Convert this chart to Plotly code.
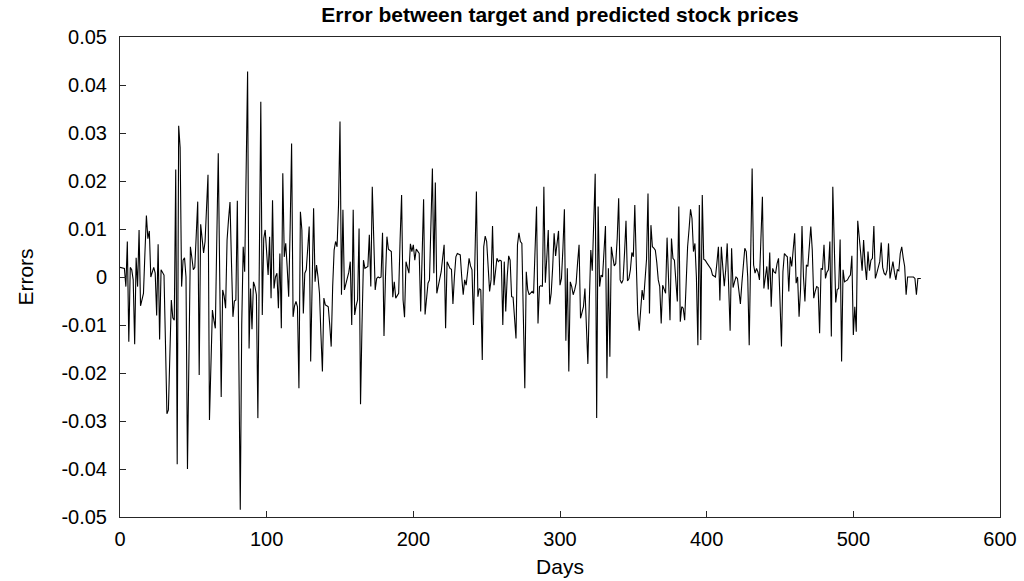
import plotly.graph_objects as go

errors = [
    0.0020, 0.0019, 0.0018, 0.0018, -0.0020, 0.0074, -0.0135, 0.0020, 0.0015, -0.0006,
    -0.0140, 0.0040, -0.0020, 0.0098, -0.0060, -0.0045, -0.0034, 0.0050, 0.0128, 0.0080,
    0.0096, 0.0000, 0.0010, 0.0020, 0.0008, -0.0080, 0.0068, -0.0130, 0.0015, 0.0010,
    0.0004, -0.0138, -0.0285, -0.0277, -0.0150, -0.0048, -0.0085, -0.0090, 0.0224, -0.0390,
    0.0315, 0.0270, -0.0020, 0.0035, 0.0040, 0.0000, -0.0400, -0.0100, 0.0063, 0.0040,
    0.0015, 0.0020, 0.0090, 0.0157, -0.0204, 0.0110, 0.0080, 0.0050, 0.0074, 0.0150,
    0.0213, -0.0298, -0.0150, -0.0069, -0.0090, -0.0107, 0.0080, 0.0258, 0.0000, -0.0250,
    -0.0027, -0.0040, -0.0065, 0.0077, 0.0120, 0.0156, 0.0030, -0.0083, -0.0050, -0.0048,
    0.0159, -0.0150, -0.0485, -0.0100, 0.0063, 0.0011, 0.0200, 0.0428, -0.0149, -0.0024,
    -0.0109, -0.0010, -0.0020, -0.0037, -0.0294, 0.0050, 0.0365, -0.0079, 0.0080, 0.0098,
    0.0040, 0.0004, 0.0084, -0.0044, 0.0160, -0.0024, 0.0000, 0.0008, -0.0065, 0.0049,
    -0.0107, 0.0216, 0.0042, 0.0070, 0.0020, -0.0041, 0.0100, 0.0278, -0.0083, -0.0060,
    -0.0051, -0.0062, -0.0232, 0.0136, 0.0098, -0.0076, 0.0008, 0.0015, 0.0060, 0.0105,
    -0.0176, 0.0000, 0.0143, -0.0010, 0.0025, 0.0000, -0.0034, -0.0120, -0.0197, -0.0044,
    -0.0058, -0.0060, -0.0062, -0.0100, -0.0145, -0.0020, 0.0056, 0.0074, 0.0063, 0.0150,
    0.0324, -0.0037, 0.0140, -0.0027, -0.0015, -0.0006, 0.0010, 0.0032, -0.0100, 0.0140,
    -0.0079, -0.0060, -0.0048, 0.0101, -0.0265, -0.0100, 0.0035, 0.0018, 0.0020, 0.0022,
    0.0088, -0.0020, 0.0188, 0.0050, -0.0027, -0.0003, 0.0000, -0.0002, 0.0000, 0.0092,
    -0.0123, 0.0000, 0.0084, 0.0058, 0.0055, 0.0053, -0.0042, -0.0010, -0.0044, -0.0040,
    -0.0034, 0.0080, 0.0171, -0.0048, -0.0084, 0.0032, 0.0020, 0.0008, 0.0069, 0.0053,
    0.0067, 0.0035, 0.0058, 0.0052, 0.0049, -0.0072, 0.0050, 0.0162, -0.0078, -0.0040,
    -0.0013, -0.0006, 0.0100, 0.0226, 0.0008, 0.0197, -0.0034, -0.0020, -0.0006, 0.0011,
    0.0040, 0.0067, -0.0107, 0.0032, 0.0025, 0.0018, 0.0016, -0.0056, 0.0000, 0.0042,
    0.0049, 0.0048, 0.0046, 0.0000, -0.0037, -0.0006, -0.0017, 0.0010, 0.0039, 0.0023,
    0.0015, -0.0100, 0.0020, 0.0178, -0.0041, -0.0024, -0.0027, -0.0173, 0.0063, 0.0085,
    0.0074, 0.0020, -0.0030, -0.0006, 0.0106, -0.0017, 0.0010, 0.0039, 0.0032, 0.0035,
    0.0033, -0.0100, 0.0032, -0.0072, 0.0000, 0.0044, 0.0035, -0.0041, -0.0042, -0.0080,
    -0.0128, 0.0067, 0.0092, 0.0074, 0.0070, -0.0080, -0.0232, 0.0011, -0.0027, -0.0037,
    -0.0032, -0.0030, -0.0034, 0.0050, 0.0147, -0.0097, -0.0020, -0.0018, -0.0020, 0.0188,
    -0.0012, 0.0040, 0.0098, -0.0057, -0.0034, 0.0020, 0.0091, 0.0044, 0.0070, 0.0096,
    -0.0017, -0.0003, 0.0060, 0.0141, -0.0133, 0.0018, -0.0197, -0.0010, -0.0020, -0.0037,
    -0.0027, -0.0013, 0.0030, 0.0067, -0.0086, -0.0075, -0.0062, -0.0024, -0.0100, -0.0181,
    -0.0050, 0.0056, 0.0013, 0.0100, 0.0215, -0.0294, 0.0147, -0.0020, 0.0004, 0.0000,
    0.0050, 0.0106, -0.0211, 0.0018, -0.0166, 0.0063, 0.0042, 0.0023, 0.0028, 0.0080,
    0.0164, -0.0006, -0.0013, -0.0006, 0.0050, 0.0117, -0.0008, -0.0003, 0.0015, 0.0051,
    0.0042, 0.0150, 0.0030, -0.0076, -0.0112, -0.0060, -0.0027, -0.0048, -0.0010, 0.0037,
    0.0174, -0.0076, 0.0108, 0.0063, 0.0060, 0.0056, 0.0030, -0.0006, -0.0020, -0.0097,
    -0.0017, -0.0027, -0.0034, 0.0082, -0.0030, -0.0090, 0.0080, 0.0039, 0.0035, 0.0000,
    -0.0051, 0.0147, -0.0093, -0.0062, -0.0065, -0.0090, -0.0010, 0.0063, 0.0100, 0.0141,
    0.0122, 0.0053, 0.0070, 0.0000, -0.0142, 0.0150, -0.0131, 0.0171, 0.0037, 0.0035,
    0.0030, 0.0025, 0.0020, 0.0016, 0.0004, 0.0002, 0.0000, 0.0030, 0.0063, -0.0049,
    0.0063, 0.0020, -0.0019, 0.0015, 0.0070, -0.0020, -0.0112, 0.0060, -0.0022, -0.0010,
    0.0000, -0.0003, -0.0030, -0.0056, -0.0013, 0.0030, 0.0060, 0.0053, 0.0000, -0.0142,
    0.0050, 0.0226, 0.0025, 0.0008, 0.0018, 0.0010, -0.0006, 0.0080, 0.0167, -0.0024,
    0.0000, 0.0022, -0.0026, 0.0051, -0.0062, 0.0018, 0.0010, 0.0008, 0.0028, 0.0039,
    -0.0050, -0.0145, 0.0011, 0.0049, 0.0045, 0.0042, -0.0030, 0.0042, 0.0022, 0.0060,
    0.0091, -0.0013, 0.0000, -0.0083, -0.0027, 0.0106, 0.0000, -0.0051, 0.0025, 0.0022,
    0.0060, 0.0105, 0.0056, -0.0044, -0.0030, -0.0020, -0.0022, -0.0117, 0.0018, 0.0016,
    0.0067, -0.0003, 0.0010, 0.0015, 0.0074, -0.0124, 0.0188, 0.0050, -0.0053, -0.0026,
    -0.0024, 0.0078, -0.0176, 0.0015, -0.0010, -0.0008, -0.0006, 0.0000, 0.0004, 0.0044,
    -0.0121, -0.0062, -0.0114, 0.0117, 0.0088, 0.0050, 0.0013, 0.0077, 0.0025, -0.0006,
    0.0053, 0.0013, 0.0035, 0.0039, 0.0106, -0.0003, 0.0008, 0.0020, 0.0032, 0.0072,
    0.0020, 0.0008, 0.0004, 0.0015, 0.0070, -0.0003, 0.0015, 0.0032, 0.0010, -0.0006,
    0.0015, 0.0013, 0.0049, 0.0063, 0.0040, 0.0022, -0.0037, 0.0000, 0.0000, 0.0000,
    0.0000, 0.0000, -0.0003, -0.0037, -0.0003, -0.0003, -0.0003,
]
days = list(range(len(errors)))

x_ticks = [0, 100, 200, 300, 400, 500, 600]
y_ticks = [-0.05, -0.04, -0.03, -0.02, -0.01, 0, 0.01, 0.02, 0.03, 0.04, 0.05]
y_tick_text = ["-0.05", "-0.04", "-0.03", "-0.02", "-0.01", "0",
               "0.01", "0.02", "0.03", "0.04", "0.05"]

fig = go.Figure(go.Scatter(x=days, y=errors, mode="lines",
                           line=dict(color="black", width=1.1)))

font = "Liberation Sans, Arial, sans-serif"
fig.update_layout(
    width=1024, height=581,
    margin=dict(l=120, r=24, t=37, b=64),
    paper_bgcolor="white", plot_bgcolor="white",
    showlegend=False,
    font=dict(family=font, color="black", size=20),
    title=dict(text="<b>Error between target and predicted stock prices</b>",
               x=0.5469, xanchor="center", y=1 - 15 / 581, yanchor="middle",
               yref="container", font=dict(size=21, family=font, color="black")),
)
fig.update_xaxes(range=[0, 600], tickvals=x_ticks, ticks="inside", ticklen=6,
                 tickcolor="#262626", showline=True, linecolor="#262626", linewidth=1,
                 mirror=True, showgrid=False, zeroline=False, automargin=False,
                 ticklabelstandoff=4,
                 title=dict(text="Days", standoff=10, font=dict(size=21)),
                 tickfont=dict(size=20))
fig.update_yaxes(range=[-0.05, 0.05], tickvals=y_ticks, ticktext=y_tick_text,
                 ticks="inside", ticklen=6, tickcolor="#262626", showline=True,
                 linecolor="#262626", linewidth=1, mirror=True, showgrid=False,
                 zeroline=False, automargin=False, ticklabelstandoff=8,
                 title=dict(text="Errors", standoff=22,
                            font=dict(size=21, family="Liberation Sans Narrow, Liberation Sans, Arial")),
                 tickfont=dict(size=20))

fig.write_html("out.html")
